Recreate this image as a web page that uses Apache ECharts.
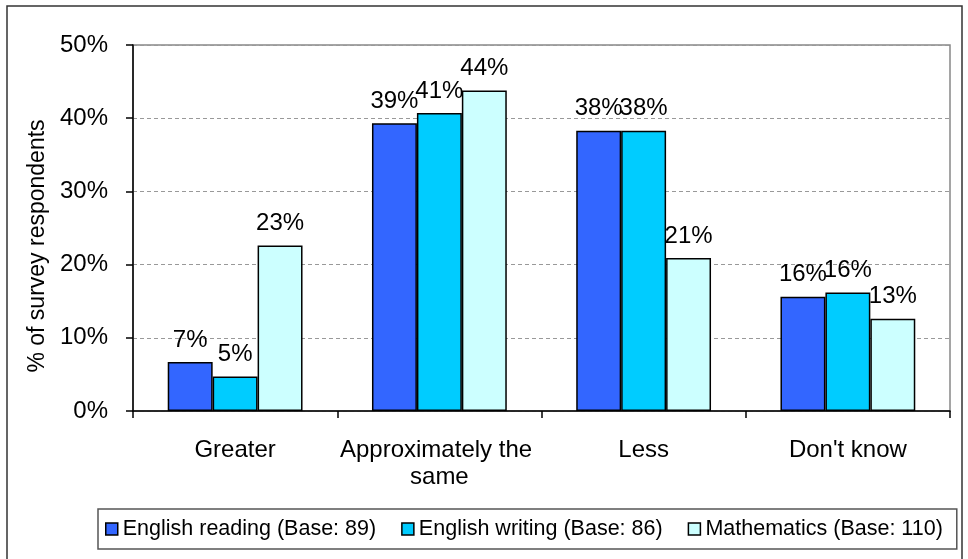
<!DOCTYPE html>
<html>
<head>
<meta charset="utf-8">
<script src="https://cdn.jsdelivr.net/npm/echarts@6/dist/echarts.min.js"></script>
<style>
html,body{margin:0;padding:0;background:#fff;}
#chart{width:968px;height:559px;}
</style>
</head>
<body>
<div id="chart"></div>
<script>
const categories = ['Greater', 'Approximately the same', 'Less', "Don't know"];
const seriesNames = ['English reading (Base: 89)', 'English writing (Base: 86)', 'Mathematics (Base: 110)'];
const englishReading = [6.7, 39.3, 38.3, 15.6];
const englishWriting = [4.7, 40.7, 38.3, 16.2];
const mathematics = [22.6, 43.8, 20.9, 12.6];
const yTicks = [0, 10, 20, 30, 40, 50];
const colors = ['#3366FF', '#00CCFF', '#CCFFFF'];

const FONT = "'Liberation Sans', Arial, sans-serif";
const chart = echarts.init(document.getElementById('chart'), null, {renderer: 'canvas'});

function mkSeries(name, data, color) {
  return {
    name: name,
    type: 'bar',
    data: data,
    barGap: '0%',
    barCategoryGap: '34%',
    itemStyle: {color: color, borderColor: '#000', borderWidth: 1.5},
    label: {
      show: true,
      position: 'top',
      distance: 10,
      formatter: p => Math.round(p.value) + '%',
      fontFamily: FONT,
      fontSize: 24,
      color: '#000'
    }
  };
}

chart.setOption({
  animation: false,
  backgroundColor: '#fff',
  textStyle: {fontFamily: FONT},
  grid: {left: 133, right: 18, top: 45, bottom: 148, show: true, borderColor: '#888', borderWidth: 1.5, containLabel: false},
  graphic: [{
    type: 'rect',
    shape: {x: 7, y: 6, width: 955, height: 570},
    style: {fill: 'none', stroke: '#333', lineWidth: 1.5},
    silent: true, z: -1
  }],
  legend: {
    left: 98, top: 509,
    padding: [9, 14, 9, 7],
    itemWidth: 12, itemHeight: 12, itemGap: 25,
    borderColor: '#555', borderWidth: 1.5,
    icon: 'rect',
    itemStyle: {borderColor: '#000', borderWidth: 1.5},
    textStyle: {fontFamily: FONT, fontSize: 21.5, color: '#000'},
    data: seriesNames
  },
  xAxis: {
    type: 'category',
    data: categories,
    axisLine: {lineStyle: {color: '#000', width: 1.5}},
    axisTick: {show: true, length: 7, lineStyle: {color: '#000', width: 1.5}},
    axisLabel: {
      fontFamily: FONT, fontSize: 24, color: '#000',
      margin: 26, lineHeight: 27,
      width: 202, overflow: 'break', interval: 0
    }
  },
  yAxis: {
    type: 'value',
    min: yTicks[0], max: yTicks[yTicks.length - 1], interval: 10,
    name: '% of survey respondents',
    nameLocation: 'middle',
    nameGap: 84,
    nameRotate: 90,
    nameTextStyle: {fontFamily: FONT, fontSize: 23, color: '#000', padding: [0, 36, 0, 0]},
    axisLine: {show: true, lineStyle: {color: '#000', width: 1.5}},
    axisTick: {show: true, inside: false, length: 7, lineStyle: {color: '#000', width: 1.5}},
    axisLabel: {fontFamily: FONT, fontSize: 24, color: '#000', margin: 25, formatter: v => v + '%'},
    splitLine: {show: true, lineStyle: {color: '#999', type: [4, 3], width: 1}}
  },
  series: [
    mkSeries(seriesNames[0], englishReading, colors[0]),
    mkSeries(seriesNames[1], englishWriting, colors[1]),
    mkSeries(seriesNames[2], mathematics, colors[2])
  ]
});
</script>
</body>
</html>
